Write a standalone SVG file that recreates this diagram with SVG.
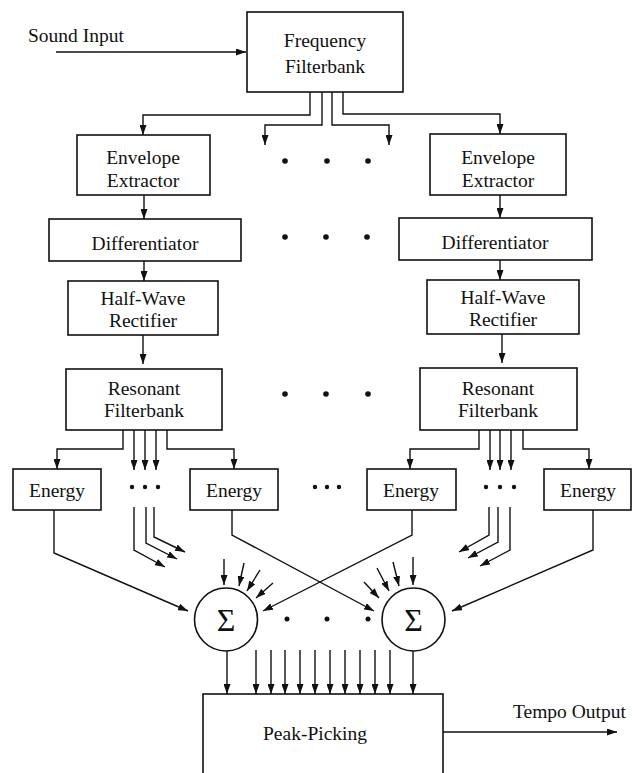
<svg xmlns="http://www.w3.org/2000/svg" width="632" height="773" viewBox="0 0 632 773">
<style>
  .box { fill: #fff; stroke: #111; stroke-width: 1.6; }
  .lbl { font-family: "Liberation Serif", "Times New Roman", serif; font-size: 19.5px; fill: #111; text-anchor: middle; }
  .free { font-family: "Liberation Serif", "Times New Roman", serif; font-size: 19.5px; fill: #111; }
  .sig { font-family: "Liberation Serif", "Times New Roman", serif; font-size: 32px; fill: #111; text-anchor: middle; }
  .ln { fill: none; stroke: #111; stroke-width: 1.4; }
  .ar { fill: none; stroke: #111; stroke-width: 1.4; marker-end: url(#ah); }
  .dot { fill: #111; }
</style>
<defs>
  <marker id="ah" markerUnits="userSpaceOnUse" markerWidth="10" markerHeight="7" viewBox="0 0 10 7" refX="10" refY="3.5" orient="auto">
    <path d="M0,0 L10,3.5 L0,7 z" fill="#111"/>
  </marker>
</defs>
<rect width="632" height="773" fill="#fff"/>

<g id="sound-input"><text class="free" x="28" y="42">Sound Input</text></g>
<g id="freq-filterbank">
  <rect class="box" x="247" y="12" width="156" height="80"/>
  <text class="lbl" x="325" y="47">Frequency</text>
  <text class="lbl" x="325" y="73">Filterbank</text>
</g>
<g id="env-left">
  <rect class="box" x="77" y="135" width="133" height="60"/>
  <text class="lbl" x="143" y="164">Envelope</text>
  <text class="lbl" x="143" y="187">Extractor</text>
</g>
<g id="env-right">
  <rect class="box" x="430" y="134" width="136" height="61"/>
  <text class="lbl" x="498" y="164">Envelope</text>
  <text class="lbl" x="498" y="187">Extractor</text>
</g>
<g id="diff-left">
  <rect class="box" x="49" y="219" width="192" height="42"/>
  <text class="lbl" x="145" y="250">Differentiator</text>
</g>
<g id="diff-right">
  <rect class="box" x="399" y="218" width="193" height="42"/>
  <text class="lbl" x="495" y="249">Differentiator</text>
</g>
<g id="hwr-left">
  <rect class="box" x="68" y="281" width="150" height="54"/>
  <text class="lbl" x="143" y="305">Half-Wave</text>
  <text class="lbl" x="143" y="327">Rectifier</text>
</g>
<g id="hwr-right">
  <rect class="box" x="427" y="280" width="152" height="54"/>
  <text class="lbl" x="503" y="304">Half-Wave</text>
  <text class="lbl" x="503" y="326">Rectifier</text>
</g>
<g id="res-left">
  <rect class="box" x="66" y="369" width="156" height="61"/>
  <text class="lbl" x="144" y="395">Resonant</text>
  <text class="lbl" x="144" y="417">Filterbank</text>
</g>
<g id="res-right">
  <rect class="box" x="420" y="368" width="157" height="62"/>
  <text class="lbl" x="498" y="395">Resonant</text>
  <text class="lbl" x="498" y="417">Filterbank</text>
</g>
<g id="energy-1">
  <rect class="box" x="13" y="469" width="88" height="41"/>
  <text class="lbl" x="57" y="497">Energy</text>
</g>
<g id="energy-2">
  <rect class="box" x="190" y="469" width="88" height="41"/>
  <text class="lbl" x="234" y="497">Energy</text>
</g>
<g id="energy-3">
  <rect class="box" x="367" y="469" width="89" height="41"/>
  <text class="lbl" x="411" y="497">Energy</text>
</g>
<g id="energy-4">
  <rect class="box" x="544" y="469" width="87" height="41"/>
  <text class="lbl" x="588" y="497">Energy</text>
</g>
<g id="sum-1">
  <circle class="box" cx="226" cy="619.5" r="31.5"/>
  <text class="sig" x="226" y="631">Σ</text>
</g>
<g id="sum-2">
  <circle class="box" cx="413.5" cy="619.5" r="31.5"/>
  <text class="sig" x="413.5" y="631">Σ</text>
</g>
<g id="peak-picking">
  <rect class="box" x="203" y="694" width="240" height="100"/>
  <text class="lbl" x="315" y="740">Peak-Picking</text>
</g>
<g id="tempo-output"><text class="free" x="513" y="718">Tempo Output</text></g>

<g id="ellipses">
  <circle class="dot" cx="285" cy="161" r="2.8"/><circle class="dot" cx="327" cy="161" r="2.8"/><circle class="dot" cx="368" cy="161" r="2.8"/>
  <circle class="dot" cx="285" cy="237" r="2.8"/><circle class="dot" cx="326" cy="237" r="2.8"/><circle class="dot" cx="367" cy="237" r="2.8"/>
  <circle class="dot" cx="285" cy="394" r="2.8"/><circle class="dot" cx="326" cy="394" r="2.8"/><circle class="dot" cx="368" cy="394" r="2.8"/>
  <circle class="dot" cx="132" cy="487" r="2.2"/><circle class="dot" cx="145" cy="487" r="2.2"/><circle class="dot" cx="158" cy="487" r="2.2"/>
  <circle class="dot" cx="315" cy="487" r="2.2"/><circle class="dot" cx="327" cy="487" r="2.2"/><circle class="dot" cx="339" cy="487" r="2.2"/>
  <circle class="dot" cx="486" cy="487" r="2.2"/><circle class="dot" cx="500" cy="487" r="2.2"/><circle class="dot" cx="514" cy="487" r="2.2"/>
  <circle class="dot" cx="287" cy="619" r="2.5"/><circle class="dot" cx="327" cy="619" r="2.5"/><circle class="dot" cx="368" cy="619" r="2.5"/>
</g>

<g id="connectors">
  <path class="ar" d="M56,52 H246"/>
  <path class="ar" d="M310,92 V115 H143 V135"/>
  <path class="ar" d="M322,92 V125 H265 V145"/>
  <path class="ar" d="M332,92 V125 H389 V145"/>
  <path class="ar" d="M343,92 V114 H500 V134"/>
  <path class="ar" d="M144,195 V219"/>
  <path class="ar" d="M500,195 V218"/>
  <path class="ar" d="M144,261 V281"/>
  <path class="ar" d="M500,260 V280"/>
  <path class="ar" d="M143,335 V364"/>
  <path class="ar" d="M502,334 V363"/>
  <path class="ar" d="M123,430 V449 H57 V469"/>
  <path class="ar" d="M134,430 V470"/>
  <path class="ar" d="M145,430 V470"/>
  <path class="ar" d="M156,430 V470"/>
  <path class="ar" d="M167,430 V449 H234 V469"/>
  <path class="ar" d="M479,430 V449 H410 V469"/>
  <path class="ar" d="M490,430 V470"/>
  <path class="ar" d="M500,430 V470"/>
  <path class="ar" d="M511,430 V470"/>
  <path class="ar" d="M523,430 V449 H589 V469"/>
  <path class="ar" d="M134,507 V550 L165,567"/>
  <path class="ar" d="M146,507 V543 L177,559"/>
  <path class="ar" d="M154,507 V537 L185,552"/>
  <path class="ar" d="M489,507 V535 L459,552"/>
  <path class="ar" d="M498,507 V542 L468,558"/>
  <path class="ar" d="M510,507 V550 L480,566"/>
  <path class="ar" d="M54,510 V553 L188,611"/>
  <path class="ar" d="M232,510 V535 L374,611"/>
  <path class="ar" d="M412,510 V535 L263,611"/>
  <path class="ar" d="M593,510 V550 L452,611"/>
  <path class="ar" d="M224,559 V585"/>
  <path class="ar" d="M244,563 L239,586"/>
  <path class="ar" d="M260,570 L247,591"/>
  <path class="ar" d="M273,583 L256,598"/>
  <path class="ar" d="M413,557 V585"/>
  <path class="ar" d="M393,562 L399,586"/>
  <path class="ar" d="M377,568 L389,591"/>
  <path class="ar" d="M364,582 L379,598"/>
  <path class="ar" d="M227,651 V694"/>
  <path class="ar" d="M413,651 V694"/>
  <path class="ar" d="M256,650 V694"/>
  <path class="ar" d="M271,650 V694"/>
  <path class="ar" d="M285,650 V694"/>
  <path class="ar" d="M300,650 V694"/>
  <path class="ar" d="M315,650 V694"/>
  <path class="ar" d="M330,650 V694"/>
  <path class="ar" d="M345,650 V694"/>
  <path class="ar" d="M360,650 V694"/>
  <path class="ar" d="M375,650 V694"/>
  <path class="ar" d="M390,650 V694"/>
  <path class="ar" d="M443,732 H617"/>
</g>
</svg>
